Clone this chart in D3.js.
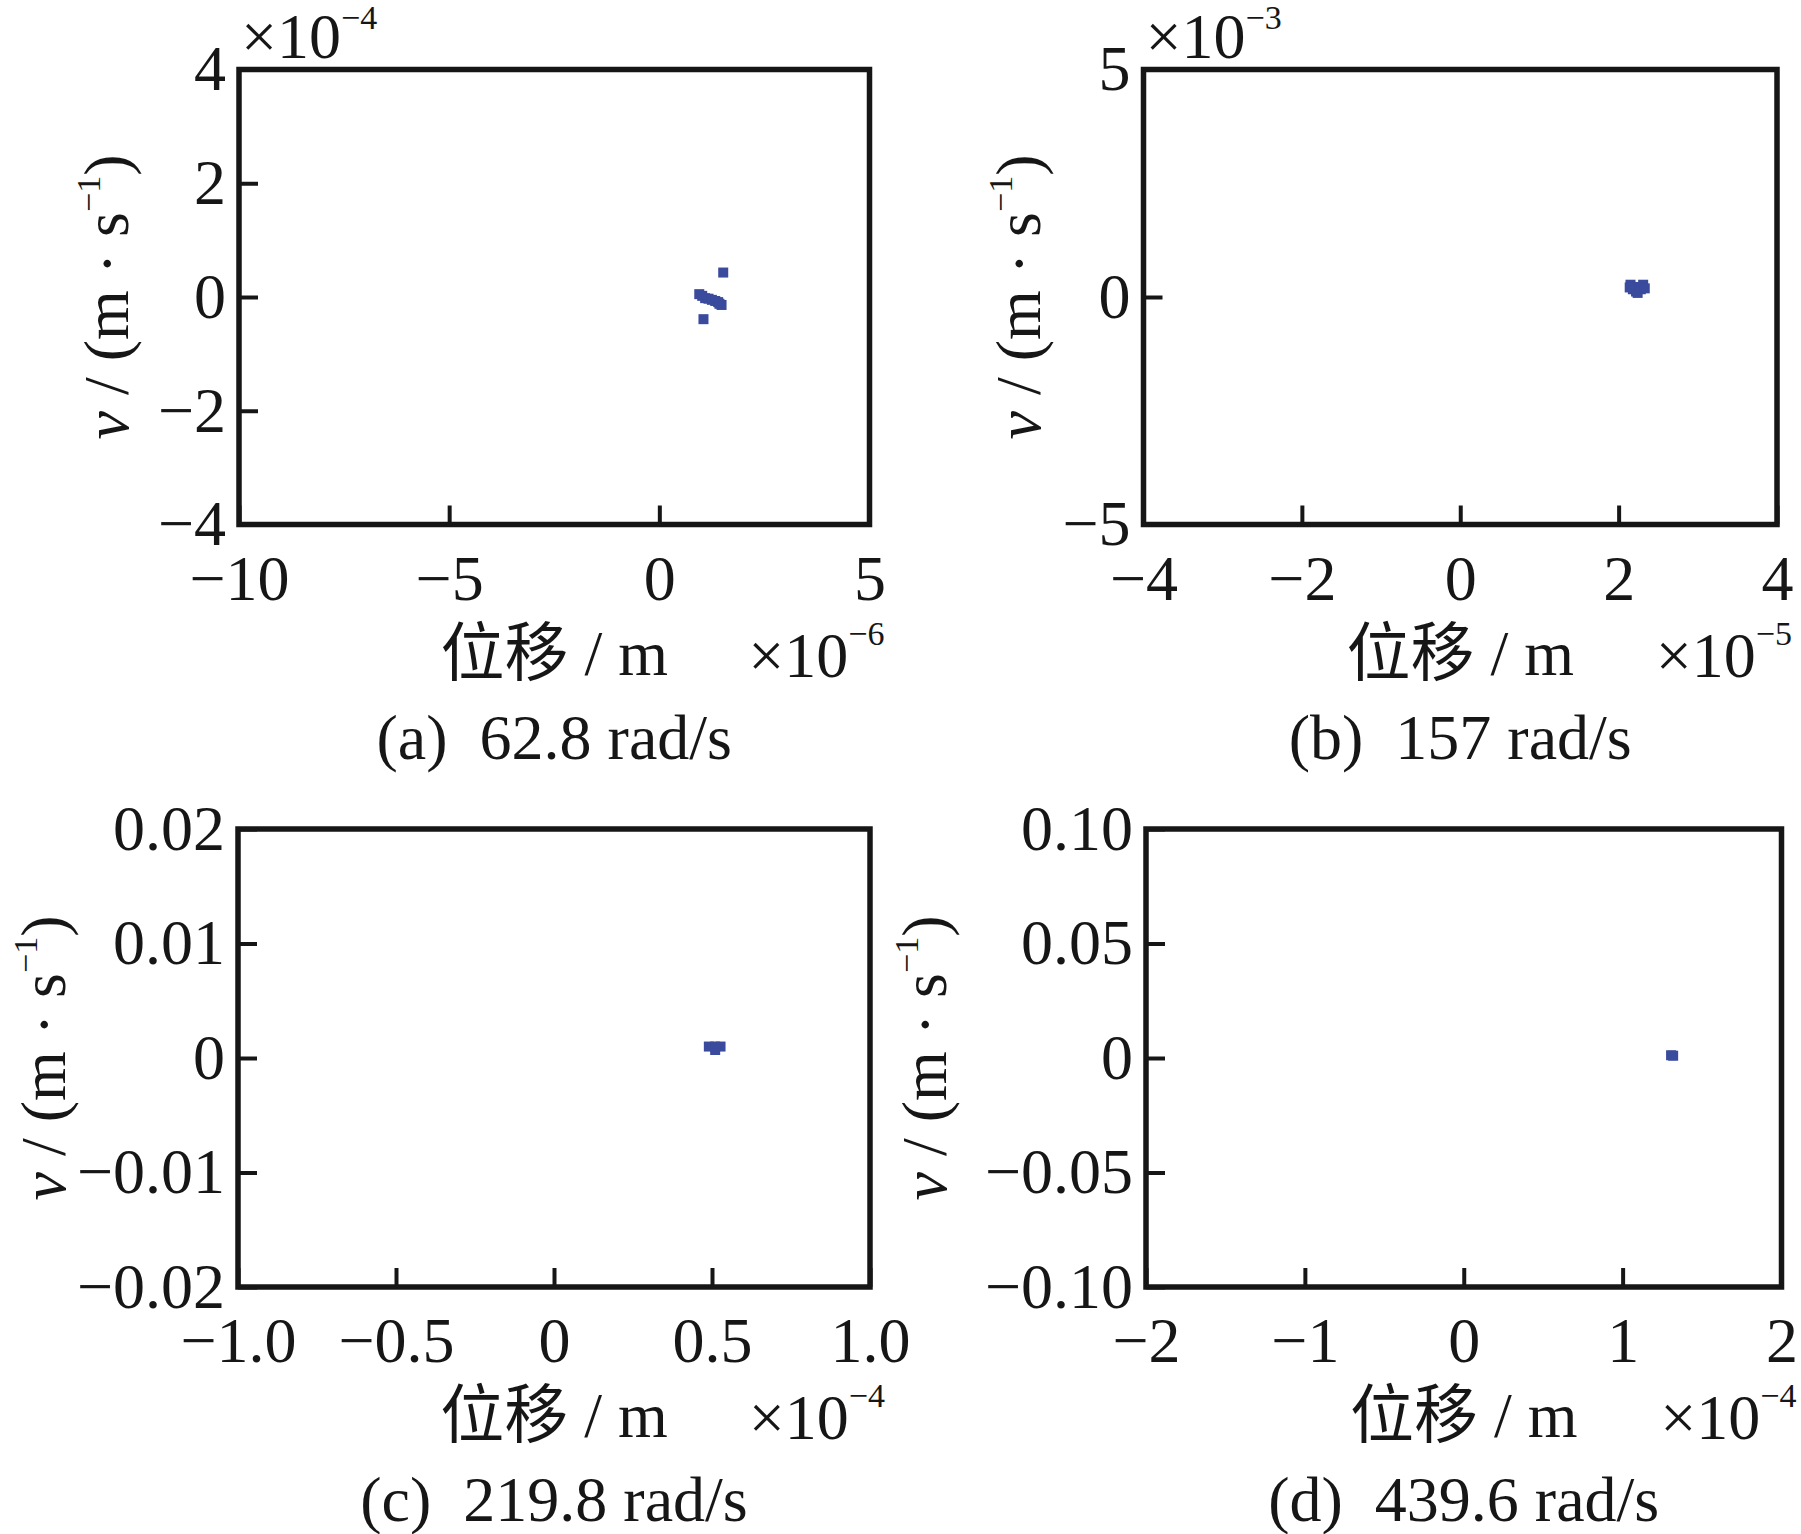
<!DOCTYPE html>
<html>
<head>
<meta charset="utf-8">
<script src="https://cdn.jsdelivr.net/npm/d3@7"></script>
<style>
body{margin:0;background:#fff;}
text{font-family:"Liberation Serif","Times New Roman","Noto Sans CJK SC",serif;fill:#161616;white-space:pre;}
</style>
</head>
<body>
<div id="chart"></div>
<script>
// phase plots at four speeds, values in the units shown on each axis
var captions = ["(a)  62.8 rad/s", "(b)  157 rad/s", "(c)  219.8 rad/s", "(d)  439.6 rad/s"];
var xDomains = [[-10, 5], [-4, 4], [-1, 1], [-2, 2]];
var yDomains = [[-4, 4], [-5, 5], [-0.02, 0.02], [-0.1, 0.1]];
var xTicks = [[-10, -5, 0, 5], [-4, -2, 0, 2, 4], [-1, -0.5, 0, 0.5, 1], [-2, -1, 0, 1, 2]];
var xTickLabels = [["−10", "−5", "0", "5"], ["−4", "−2", "0", "2", "4"], ["−1.0", "−0.5", "0", "0.5", "1.0"], ["−2", "−1", "0", "1", "2"]];
var yTicks = [[-4, -2, 0, 2, 4], [-5, 0, 5], [-0.02, -0.01, 0, 0.01, 0.02], [-0.1, -0.05, 0, 0.05, 0.1]];
var yTickLabels = [["−4", "−2", "0", "2", "4"], ["−5", "0", "5"], ["−0.02", "−0.01", "0", "0.01", "0.02"], ["−0.10", "−0.05", "0", "0.05", "0.10"]];
var xExponents = ["−6", "−5", "−4", "−4"];
var yExponents = ["−4", "−3", "", ""];

var pointsA = [[1.52, 0.43], [0.95, 0.05], [1.02, 0.02], [1.09, -0.02], [1.17, -0.03], [1.25, -0.05],
  [1.33, -0.07], [1.40, -0.09], [1.48, -0.14], [1.43, -0.12], [1.05, -0.39]];
var pointsB = [[2.15, 0.27], [2.31, 0.27], [2.20, 0.22], [2.27, 0.22], [2.18, 0.17], [2.28, 0.17],
  [2.22, 0.12], [2.24, 0.09], [2.14, 0.21], [2.33, 0.19]];
var pointsC = [[0.49, 0.0010], [0.51, 0.0010], [0.527, 0.0010], [0.51, 0.0007]];
var pointsD = [[1.318, 0.001], [1.305, 0.0012]];
var allPoints = [pointsA, pointsB, pointsC, pointsD];

var w = 1801, h = 1534;
var svg = d3.select("#chart")
  .append("svg")
  .attr("width", w)
  .attr("height", h);

// frame boxes
var boxes = [[239, 869.5, 69.5, 524.5], [1143.5, 1777, 69.5, 524.5], [238, 870, 829, 1287], [1146, 1781.5, 829, 1287]];
var ylabOffset = [-130, -123, -192, -219];

boxes.forEach(function(b, i) {
  var x = d3.scaleLinear().domain(xDomains[i]).range([b[0], b[1]]);
  var y = d3.scaleLinear().domain(yDomains[i]).range([b[3], b[2]]);
  var g = svg.append("g");

  var xa = g.append("g")
    .attr("transform", "translate(0," + b[3] + ")")
    .call(d3.axisBottom(x).tickValues(xTicks[i]).tickSize(-19).tickPadding(30)
      .tickFormat(function(d, k) { return xTickLabels[i][k]; }));
  var ya = g.append("g")
    .attr("transform", "translate(" + b[0] + ",0)")
    .call(d3.axisLeft(y).tickValues(yTicks[i]).tickSize(-19).tickPadding(13)
      .tickFormat(function(d, k) { return yTickLabels[i][k]; }));
  [xa, ya].forEach(function(a) {
    a.select(".domain").remove();
    a.attr("font-size", null).attr("font-family", null);
    a.selectAll("line").attr("stroke", "#161616").attr("stroke-width", 4);
    a.selectAll("text").style("font-size", "64px").attr("fill", "#161616");
  });

  g.append("rect")
    .attr("x", b[0]).attr("y", b[2])
    .attr("width", b[1] - b[0]).attr("height", b[3] - b[2])
    .attr("fill", "none")
    .attr("stroke", "#161616")
    .attr("stroke-width", 5.5);

  g.selectAll("rect.pt")
    .data(allPoints[i])
    .enter()
    .append("rect")
    .attr("class", "pt")
    .attr("x", function(d) { return x(d[0]) - 5; })
    .attr("y", function(d) { return y(d[1]) - 5; })
    .attr("width", 10)
    .attr("height", 10)
    .attr("fill", "#3a4a9c");

  var cx = (b[0] + b[1]) / 2;

  // x label, exponent and caption
  g.append("text")
    .attr("x", cx).attr("y", b[3] + 150)
    .attr("text-anchor", "middle")
    .style("font-size", "64px")
    .text("位移 / m");

  var xe = g.append("text")
    .attr("x", b[1] + 15).attr("y", b[3] + 152)
    .attr("text-anchor", "end")
    .style("font-size", "64px");
  xe.append("tspan").text("×10");
  xe.append("tspan").attr("dy", -32).style("font-size", "34px").text(xExponents[i]);

  g.append("text")
    .attr("x", cx).attr("y", b[3] + 234)
    .attr("text-anchor", "middle")
    .style("font-size", "64px")
    .text(captions[i]);

  if (yExponents[i]) {
    var ye = g.append("text")
      .attr("x", b[0] + 2).attr("y", b[2] - 12)
      .style("font-size", "64px");
    ye.append("tspan").text("×10");
    ye.append("tspan").attr("dy", -29).style("font-size", "34px").text(yExponents[i]);
  }

  // rotated y label
  var yl = g.append("text")
    .attr("transform", "translate(" + (b[0] + ylabOffset[i]) + "," + ((b[2] + b[3]) / 2) + ") rotate(-90)")
    .attr("text-anchor", "middle")
    .attr("dy", "0.3em")
    .style("font-size", "64px");
  yl.append("tspan").style("font-style", "italic").text("v");
  yl.append("tspan").text(" / (m · s");
  yl.append("tspan").attr("dy", -28).style("font-size", "34px").text("−1");
  yl.append("tspan").attr("dy", 28).text(")");
});
</script>
</body>
</html>
